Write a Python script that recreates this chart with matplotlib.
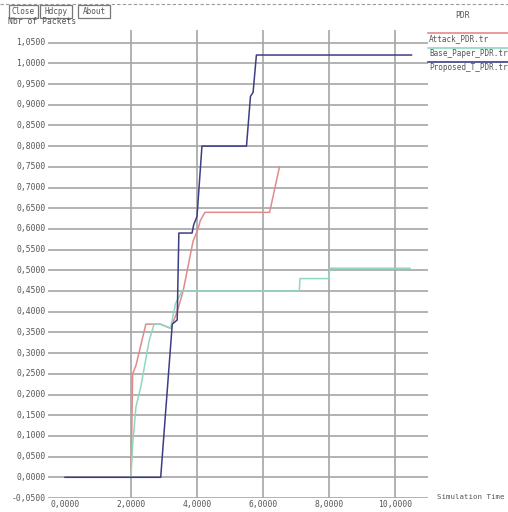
import numpy as np
import matplotlib
matplotlib.use("Agg")
import matplotlib.pyplot as plt
from matplotlib.patches import Rectangle
from matplotlib.lines import Line2D

# PDR traces read from the three trace files
t_attack = [2.0, 2.05, 2.15, 2.45, 2.88, 3.2, 3.4, 3.58, 3.88, 4.03, 4.1, 4.24, 6.2, 6.5]
pdr_attack = [0.0, 0.25, 0.27, 0.37, 0.37, 0.36, 0.40, 0.45, 0.57, 0.60, 0.62, 0.64, 0.64, 0.75]

t_base = [2.0, 2.05, 2.15, 2.3, 2.55, 2.7, 2.9, 3.2, 3.35, 3.55, 7.1, 7.12, 8.0, 8.02, 10.45]
pdr_base = [0.0, 0.08, 0.17, 0.22, 0.33, 0.37, 0.37, 0.36, 0.42, 0.45, 0.45, 0.48, 0.48, 0.505, 0.505]

t_prop = [0.0, 2.9, 3.25, 3.4, 3.45, 3.85, 3.9, 4.0, 4.15, 5.5, 5.62, 5.7, 5.8, 10.5]
pdr_prop = [0.0, 0.0, 0.37, 0.38, 0.59, 0.59, 0.61, 0.63, 0.80, 0.80, 0.92, 0.93, 1.02, 1.02]

names = ["Attack_PDR.tr", "Base_Paper_PDR.tr", "Proposed_T_PDR.tr"]
colors = ["#e08a8a", "#8fd8bf", "#3d3d86"]

yticks = np.arange(-0.05, 1.0501, 0.05)
xticks = [0, 2, 4, 6, 8, 10]

W, H = 508, 512
fig = plt.figure(figsize=(W / 100, H / 100), dpi=100)
fig.patch.set_facecolor("white")

# axes box in pixel units
left, right, top, bot = 48, 428, 30, 498
ax = fig.add_axes([left / W, 1 - bot / H, (right - left) / W, (bot - top) / H])
x0 = (left - 65) / 33.0
x1 = (right - 65) / 33.0
ax.set_xlim(x0, x1)
ax.set_ylim(-0.05, -0.05 + (bot - top) / 414.0)
for s in ax.spines.values():
    s.set_visible(False)

for yv in yticks:
    ax.axhline(yv, color="#a6a6a6", lw=1.2, zorder=1)
for xv in xticks[1:]:
    ax.axvline(xv, color="#a6a6a6", lw=1.2, zorder=1)

ax.plot(t_attack, pdr_attack, color=colors[0], lw=1.1, zorder=3)
ax.plot(t_base, pdr_base, color=colors[1], lw=1.1, zorder=3)
ax.plot(t_prop, pdr_prop, color=colors[2], lw=1.1, zorder=4)

ax.set_xticks([])
ax.set_yticks([])

mono = "DejaVu Sans Mono"
lab_col = "#555555"
for yv in yticks:
    txt = ("%.4f" % yv).replace(".", ",")
    if txt == "-0,0000":
        txt = "0,0000"
    ax.text(x0 - 0.08, yv, txt, ha="right", va="center", fontsize=5.8,
            family=mono, color=lab_col, clip_on=False)
for xv in xticks:
    txt = ("%.4f" % xv).replace(".", ",")
    fig.text((65 + 33 * xv) / W, 1 - 505 / H, txt, ha="center", va="center",
             fontsize=5.8, family=mono, color=lab_col)

# x label at the right end of the bottom grid line
fig.text(437 / W, 1 - 497 / H, "Simulation Time", ha="left", va="center",
         fontsize=5.3, family=mono, color=lab_col)

# y label under the buttons
fig.text(8 / W, 1 - 21 / H, "Nbr of Packets", ha="left", va="center",
         fontsize=5.8, family=mono, color=lab_col)

# dashed line across the top of the window
fig.add_artist(Line2D([0, 1], [1 - 4 / H, 1 - 4 / H], transform=fig.transFigure,
                      color="#9a9a9a", lw=0.8, ls=(0, (3, 2))))

# buttons
for bx, bw, label in [(9, 29, "Close"), (40, 32, "Hdcpy"), (78, 32, "About")]:
    fig.add_artist(Rectangle((bx / W, 1 - 18 / H), bw / W, 13 / H,
                             transform=fig.transFigure, facecolor="white",
                             edgecolor="#777777", lw=0.9))
    fig.text((bx + bw / 2) / W, 1 - 11.5 / H, label, ha="center", va="center",
             fontsize=5.5, family=mono, color="#555555")

# legend block on the right
fig.text(455 / W, 1 - 15 / H, "PDR", ha="left", va="center", fontsize=5.8,
         family=mono, color=lab_col)
for i, (name, c) in enumerate(zip(names, colors)):
    yl = 33 + 14.5 * i
    fig.add_artist(Line2D([428 / W, 1], [1 - yl / H, 1 - yl / H],
                          transform=fig.transFigure, color=c, lw=1.2))
    fig.text(429 / W, 1 - (yl + 6) / H, name, ha="left", va="center",
             fontsize=5.5, family=mono, color="#555555")

fig.savefig("out.png", dpi=100, facecolor="white")
